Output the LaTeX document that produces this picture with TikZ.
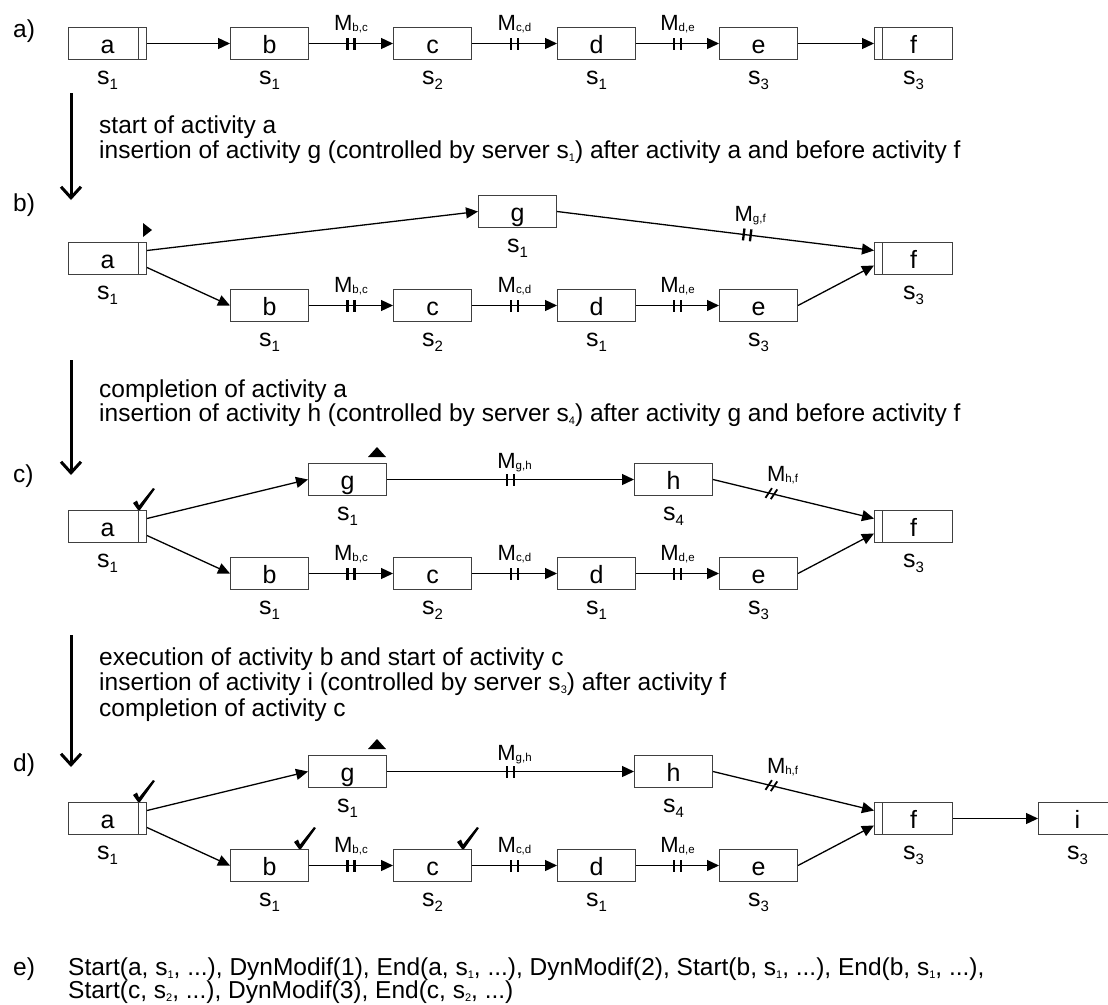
\documentclass[tikz,border=0pt]{standalone}
\usepackage{fontspec}
\setmainfont{Liberation Sans}
\usetikzlibrary{arrows.meta,calc,decorations.markings}
\newcommand\sidx[1]{\raisebox{-5pt}{\fontsize{15}{15}\selectfont #1}}
\newcommand\tidx[1]{\raisebox{-3pt}{\fontsize{11}{11}\selectfont #1}}
\newcommand\midx[1]{\raisebox{-1pt}{\fontsize{11.5}{11.5}\selectfont #1}}
\tikzset{
  box/.style={draw=black!75, line width=1pt, minimum width=78pt, minimum height=32pt,
    inner sep=0pt, font=\fontsize{25}{25}\selectfont, text height=20pt, text depth=0pt,
    anchor=north west},
  endbox/.style={box, path picture={\draw[line width=1pt, black!75]
    ([xshift=-8pt]path picture bounding box.north east) --
    ([xshift=-8pt]path picture bounding box.south east);}},
  startbox/.style={box, path picture={\draw[line width=1pt, black!75]
    ([xshift=8pt]path picture bounding box.north west) --
    ([xshift=8pt]path picture bounding box.south west);}},
  slab/.style={anchor=base, inner sep=0pt, font=\fontsize{25}{25}\selectfont},
  mlab/.style={anchor=base, inner sep=0pt, font=\fontsize{22}{22}\selectfont},
  txt/.style={anchor=base west, inner sep=0pt, font=\fontsize{24.5}{24.5}\selectfont},
  arr/.style={line width=1.3pt, -{Triangle[length=12pt,width=11pt]}},
  bars/.style={postaction={decorate, decoration={markings, mark=at position #1 with
    {\draw[arrows=-, line width=2.3pt] (-3.5pt,-6pt) -- (-3.5pt,6pt) (3.5pt,-6pt) -- (3.5pt,6pt);}}}},
  slants/.style={postaction={decorate, decoration={markings, mark=at position #1 with
    {\draw[arrows=-, line width=1.8pt] (-6pt,-5.5pt) -- (-2pt,5.5pt) (-0.5pt,-5.5pt) -- (3.5pt,5.5pt);}}}},
  big/.style={line width=3pt, -{Straight Barb[length=11pt,width=20pt,line width=3pt]}},
  tri/.style={fill=black, draw=none},
  check/.pic={\fill (-6,-6) -- (-2,-8.5) -- (0,-3.5) -- (14,-21) -- (16,-20) -- (1,1) -- (-1,1) -- cycle;},
}
\newcommand\slabel[2]{\node[slab] at ([yshift=-24pt]#1.south) {s\sidx{#2}};}
\begin{document}
\begin{tikzpicture}[x=1pt,y=-1pt]
\useasboundingbox (0,0) rectangle (1108,1004);

% ---------- row a ----------
\node[txt] (la) at (13,37) {a)};
\node[endbox] (a1) at (68,27) {a};
\node[box] (b1) at (230,27) {b};
\node[box] (c1) at (393,27) {c};
\node[box] (d1) at (557,27) {d};
\node[box] (e1) at (719,27) {e};
\node[startbox] (f1) at (874,27) {f};
\slabel{a1}{1}\slabel{b1}{1}\slabel{c1}{2}\slabel{d1}{1}\slabel{e1}{3}\slabel{f1}{3}
\draw[arr] (a1) -- (b1);
\draw[arr,bars=0.5] (b1) -- node[mlab,pos=0.5,yshift=13pt]{M\midx{b,c}} (c1);
\draw[arr,bars=0.5] (c1) -- node[mlab,pos=0.5,yshift=13pt]{M\midx{c,d}} (d1);
\draw[arr,bars=0.5] (d1) -- node[mlab,pos=0.5,yshift=13pt]{M\midx{d,e}} (e1);
\draw[arr] (e1) -- (f1);

% ---------- transition 1 ----------
\coordinate (t1s) at (71,93); \coordinate (t1e) at (71,200);
\draw[big] (t1s) -- (t1e);
\node[txt] (x11) at (99,133) {start of activity a};
\node[txt] (x12) at (99,158) {insertion of activity g (controlled by server s\tidx{1}) after activity a and before activity f};

% ---------- row b ----------
\node[txt] (lb) at (13,211) {b)};
\node[endbox] (a2) at (68,242) {a};
\node[box] (g2) at (478,195) {g};
\node[startbox] (f2) at (874,242) {f};
\node[box] (b2) at (230,289) {b};
\node[box] (c2) at (393,289) {c};
\node[box] (d2) at (557,289) {d};
\node[box] (e2) at (719,289) {e};
\slabel{a2}{1}\slabel{g2}{1}\slabel{f2}{3}\slabel{b2}{1}\slabel{c2}{2}\slabel{d2}{1}\slabel{e2}{3}
\draw[arr] ([yshift=8pt]a2.east) -- (g2.west);
\draw[arr] ([yshift=-9pt]a2.east) -- (b2.west);
\draw[arr,bars=0.6] (g2.east) -- node[mlab,pos=0.6,yshift=13pt,xshift=3pt]{M\midx{g,f}} ([yshift=8pt]f2.west);
\draw[arr,bars=0.5] (b2) -- node[mlab,pos=0.5,yshift=13pt]{M\midx{b,c}} (c2);
\draw[arr,bars=0.5] (c2) -- node[mlab,pos=0.5,yshift=13pt]{M\midx{c,d}} (d2);
\draw[arr,bars=0.5] (d2) -- node[mlab,pos=0.5,yshift=13pt]{M\midx{d,e}} (e2);
\draw[arr] (e2.east) -- ([yshift=-7pt]f2.west);
\fill[tri] ([xshift=-4pt,yshift=5pt]a2.north east) -- ++(0,-14) -- ++(9,7) -- cycle;

% ---------- transition 2 ----------
\coordinate (t2s) at (71,360); \coordinate (t2e) at (71,475);
\draw[big] (t2s) -- (t2e);
\node[txt] (x21) at (99,397) {completion of activity a};
\node[txt] (x22) at (99,421) {insertion of activity h (controlled by server s\tidx{4}) after activity g and before activity f};

% ---------- row c ----------
\node[txt] (lc) at (13,482) {c)};
\node[endbox] (a3) at (68,510) {a};
\node[box] (g3) at (308,463) {g};
\node[box] (h3) at (634,463) {h};
\node[startbox] (f3) at (874,510) {f};
\node[box] (b3) at (230,557) {b};
\node[box] (c3) at (393,557) {c};
\node[box] (d3) at (557,557) {d};
\node[box] (e3) at (719,557) {e};
\slabel{a3}{1}\slabel{g3}{1}\slabel{h3}{4}\slabel{f3}{3}\slabel{b3}{1}\slabel{c3}{2}\slabel{d3}{1}\slabel{e3}{3}
\draw[arr] ([yshift=8pt]a3.east) -- (g3.west);
\draw[arr] ([yshift=-9pt]a3.east) -- (b3.west);
\draw[arr,bars=0.5] (g3) -- node[mlab,pos=0.5,yshift=11pt,xshift=4pt]{M\midx{g,h}} (h3);
\draw[arr,slants=0.37] (h3.east) -- node[mlab,pos=0.37,yshift=12pt,xshift=10pt]{M\midx{h,f}} ([yshift=8pt]f3.west);
\draw[arr,bars=0.5] (b3) -- node[mlab,pos=0.5,yshift=13pt]{M\midx{b,c}} (c3);
\draw[arr,bars=0.5] (c3) -- node[mlab,pos=0.5,yshift=13pt]{M\midx{c,d}} (d3);
\draw[arr,bars=0.5] (d3) -- node[mlab,pos=0.5,yshift=13pt]{M\midx{d,e}} (e3);
\draw[arr] (e3.east) -- ([yshift=-7pt]f3.west);
\fill[tri] ([xshift=-19pt,yshift=6pt]g3.north east) -- ++(18,0) -- ++(-9,-10) -- cycle;
\pic at ([xshift=-8pt,yshift=1pt]a3.north east) {check};

% ---------- transition 3 ----------
\coordinate (t3s) at (71,635); \coordinate (t3e) at (71,767);
\draw[big] (t3s) -- (t3e);
\node[txt] (x31) at (99,665) {execution of activity b and start of activity c};
\node[txt] (x32) at (99,690) {insertion of activity i (controlled by server s\tidx{3}) after activity f};
\node[txt] (x33) at (99,716) {completion of activity c};

% ---------- row d ----------
\node[txt] (ld) at (13,771) {d)};
\node[endbox] (a4) at (68,802) {a};
\node[box] (g4) at (308,755) {g};
\node[box] (h4) at (634,755) {h};
\node[startbox] (f4) at (874,802) {f};
\node[box] (i4) at (1038,802) {i};
\node[box] (b4) at (230,849) {b};
\node[box] (c4) at (393,849) {c};
\node[box] (d4) at (557,849) {d};
\node[box] (e4) at (719,849) {e};
\slabel{a4}{1}\slabel{g4}{1}\slabel{h4}{4}\slabel{f4}{3}\slabel{i4}{3}\slabel{b4}{1}\slabel{c4}{2}\slabel{d4}{1}\slabel{e4}{3}
\draw[arr] ([yshift=8pt]a4.east) -- (g4.west);
\draw[arr] ([yshift=-9pt]a4.east) -- (b4.west);
\draw[arr,bars=0.5] (g4) -- node[mlab,pos=0.5,yshift=11pt,xshift=4pt]{M\midx{g,h}} (h4);
\draw[arr,slants=0.37] (h4.east) -- node[mlab,pos=0.37,yshift=12pt,xshift=10pt]{M\midx{h,f}} ([yshift=8pt]f4.west);
\draw[arr,bars=0.5] (b4) -- node[mlab,pos=0.5,yshift=13pt]{M\midx{b,c}} (c4);
\draw[arr,bars=0.5] (c4) -- node[mlab,pos=0.5,yshift=13pt]{M\midx{c,d}} (d4);
\draw[arr,bars=0.5] (d4) -- node[mlab,pos=0.5,yshift=13pt]{M\midx{d,e}} (e4);
\draw[arr] (e4.east) -- ([yshift=-7pt]f4.west);
\draw[arr] (f4) -- (i4);
\fill[tri] ([xshift=-19pt,yshift=6pt]g4.north east) -- ++(18,0) -- ++(-9,-10) -- cycle;
\pic at ([xshift=-8pt,yshift=1pt]a4.north east) {check};
\pic at ([xshift=-9pt,yshift=1pt]b4.north east) {check};
\pic at ([xshift=-9pt,yshift=1pt]c4.north east) {check};

% ---------- row e ----------
\node[txt] (le) at (13,975) {e)};
\node[txt] (y1) at (68,975) {Start(a, s\tidx{1}, ...), DynModif(1), End(a, s\tidx{1}, ...), DynModif(2), Start(b, s\tidx{1}, ...), End(b, s\tidx{1}, ...),};
\node[txt] (y2) at (68,998) {Start(c, s\tidx{2}, ...), DynModif(3), End(c, s\tidx{2}, ...)};
\end{tikzpicture}
\end{document}
